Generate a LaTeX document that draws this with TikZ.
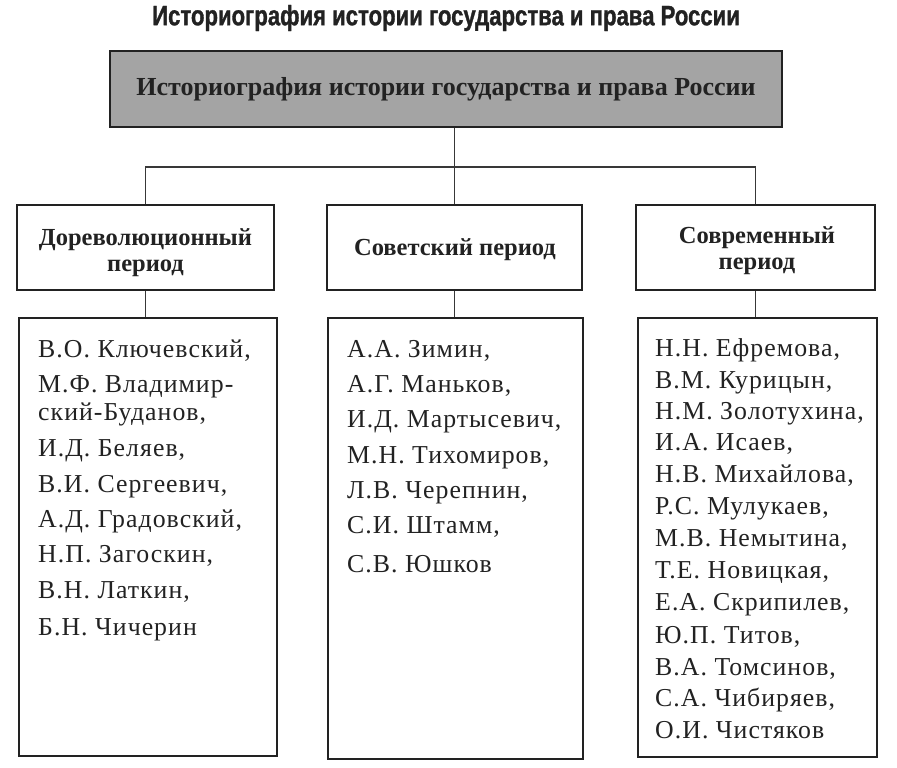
\documentclass[tikz,border=0pt]{standalone}
\usepackage{fontspec}
\setmainfont{Liberation Serif}
\newfontfamily\condsansbold[FakeStretch=0.79,FakeBold=1.2]{Liberation Sans Bold}
\newfontfamily\listfont[LetterSpace=4]{Liberation Serif}
\definecolor{boxgray}{HTML}{A4A4A4}
\definecolor{ink}{HTML}{222222}
\begin{document}
\begin{tikzpicture}[x=1pt,y=-1pt,
  box/.style={draw=ink, line width=2.2pt, fill=white, inner sep=0pt},
  topbox/.style={box, fill=boxgray, line width=2.6pt},
  conn/.style={draw=ink!90, line width=1.3pt},
  head/.style={font=\fontsize{24.5}{26}\selectfont\bfseries, align=center, text=ink, inner sep=0pt},
  person/.style={anchor=base west, font=\listfont\fontsize{25.8}{28}\selectfont, text=ink, inner sep=0pt}]
\useasboundingbox (0,0) rectangle (897,768);

\node[font=\condsansbold\fontsize{28}{30}\selectfont, text=ink, inner sep=0pt] (title) at (446,18)
  {Историография истории государства и права России};

\node[topbox, minimum width=672pt, minimum height=76pt,
      font=\fontsize{26}{30}\selectfont\bfseries, text=ink] (top) at (446,89)
  {Историография истории государства и права России};

\node[box, minimum width=257pt, minimum height=85pt] (p1) at (145.5,247.5) {};
\node[box, minimum width=255pt, minimum height=85pt] (p2) at (454.5,247.5) {};
\node[box, minimum width=239pt, minimum height=85pt] (p3) at (755.5,247.5) {};
\node[head] (p1t) at (145.5,253) {Дореволюционный\\период};
\node[head] (p2t) at (455,250) {Советский период};
\node[head] (p3t) at (757,251) {Современный\\период};

\node[box, minimum width=258pt, minimum height=438pt] (l1) at (148,537) {};
\node[box, minimum width=255pt, minimum height=441pt] (l2) at (455.5,538.5) {};
\node[box, minimum width=239pt, minimum height=439pt] (l3) at (757.5,537.5) {};

\draw[conn] (top.south -| p2.north) -- (p2.north);
\draw[conn] (p1.north) -- ++(0,-37) coordinate (hl) -| (p3.north);
\draw[conn] (p1.south) -- (p1.south |- l1.north);
\draw[conn] (p2.south) -- (p2.south |- l2.north);
\draw[conn] (p3.south) -- (p3.south |- l3.north);

\foreach \t/\y [count=\i] in {
  {В.О. Ключевский,}/357,
  {М.Ф. Владимир-}/392,
  {ский-Буданов,}/420,
  {И.Д. Беляев,}/456,
  {В.И. Сергеевич,}/492,
  {А.Д. Градовский,}/527,
  {Н.П. Загоскин,}/562,
  {В.Н. Латкин,}/598,
  {Б.Н. Чичерин}/635}
  \node[person] (a\i) at (38,\y) {\t};

\foreach \t/\y [count=\i] in {
  {А.А. Зимин,}/357,
  {А.Г. Маньков,}/392,
  {И.Д. Мартысевич,}/427,
  {М.Н. Тихомиров,}/463,
  {Л.В. Черепнин,}/498,
  {С.И. Штамм,}/533,
  {С.В. Юшков}/572}
  \node[person] (b\i) at (347,\y) {\t};

\foreach \t/\y [count=\i] in {
  {Н.Н. Ефремова,}/356,
  {В.М. Курицын,}/388,
  {Н.М. Золотухина,}/419,
  {И.А. Исаев,}/450,
  {Н.В. Михайлова,}/482,
  {Р.С. Мулукаев,}/514,
  {М.В. Немытина,}/546,
  {Т.Е. Новицкая,}/578,
  {Е.А. Скрипилев,}/610,
  {Ю.П. Титов,}/643,
  {В.А. Томсинов,}/675,
  {С.А. Чибиряев,}/706,
  {О.И. Чистяков}/738}
  \node[person] (c\i) at (655,\y) {\t};
\end{tikzpicture}
\end{document}
